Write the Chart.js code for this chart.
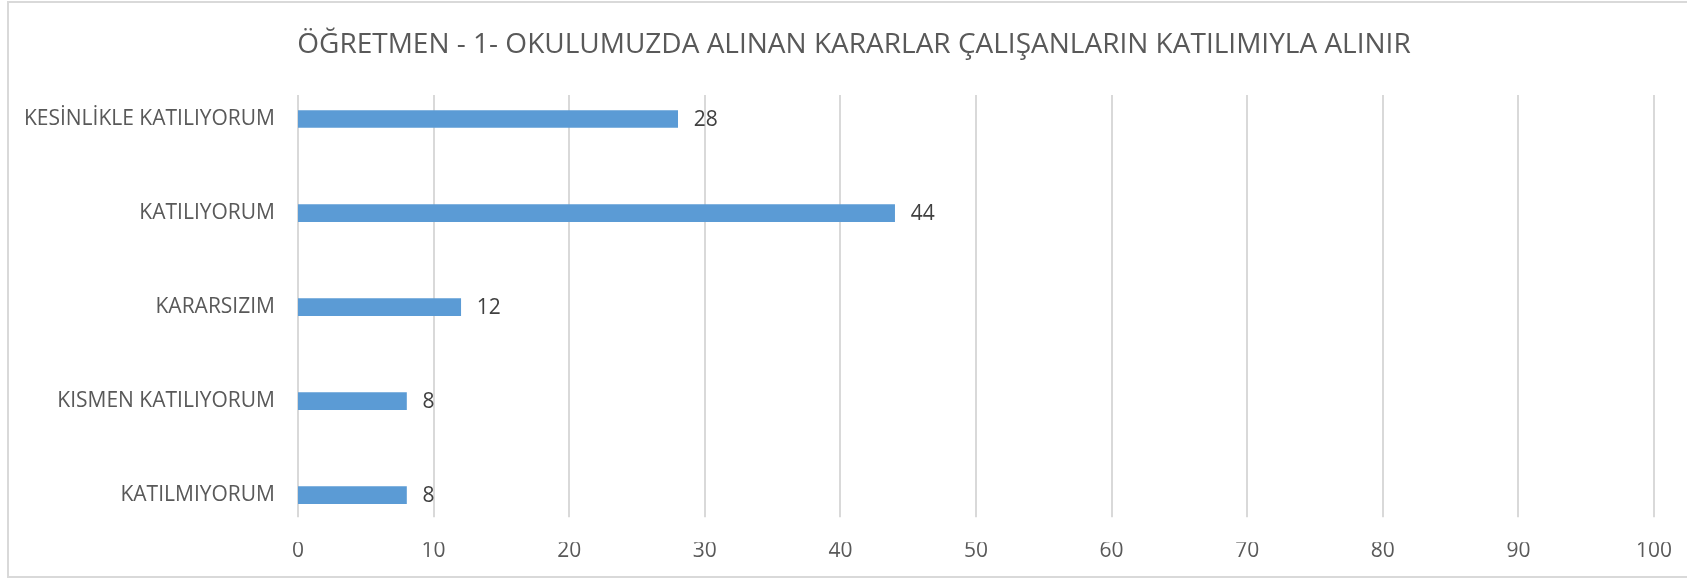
<!DOCTYPE html>
<html>
<head>
<meta charset="utf-8">
<script src="https://cdn.jsdelivr.net/npm/chart.js@4/dist/chart.umd.min.js"></script>
<style>
  html, body { margin: 0; padding: 0; background: #fff; }
  canvas { display: block; }
</style>
</head>
<body>
<canvas id="chart" width="1687" height="579"></canvas>
<script>
const chartTitle = "ÖĞRETMEN - 1- OKULUMUZDA ALINAN KARARLAR ÇALIŞANLARIN KATILIMIYLA ALINIR";
const categories = ["KESİNLİKLE KATILIYORUM", "KATILIYORUM", "KARARSIZIM", "KISMEN KATILIYORUM", "KATILMIYORUM"];
const values = [28, 44, 12, 8, 8];
const axisMin = 0;
const axisMax = 100;
const axisStep = 10;

const textColor = "#595959";
const fontFamily = "'Open Sans', sans-serif";

// white background, light frame and the title (sits a little right of centre)
const framePlugin = {
  id: "frame",
  beforeDraw(chart) {
    const ctx = chart.ctx;
    ctx.save();
    ctx.fillStyle = "#fff";
    ctx.fillRect(0, 0, chart.width, chart.height);
    ctx.strokeStyle = "#d9d9d9";
    ctx.lineWidth = 2;
    ctx.strokeRect(8, 2, chart.width + 10, chart.height - 4);
    ctx.fillStyle = textColor;
    ctx.font = "28px " + fontFamily;
    ctx.textAlign = "center";
    ctx.textBaseline = "middle";
    ctx.fillText(chartTitle, 854, 45);
    ctx.restore();
  }
};

// vertical gridlines, a bit shorter than the category band
const gridPlugin = {
  id: "shortGrid",
  beforeDatasetsDraw(chart) {
    const ctx = chart.ctx;
    const xScale = chart.scales.x;
    const area = chart.chartArea;
    ctx.save();
    ctx.strokeStyle = "#d9d9d9";
    ctx.lineWidth = 2;
    xScale.ticks.forEach(t => {
      const x = Math.round(xScale.getPixelForValue(t.value));
      ctx.beginPath();
      ctx.moveTo(x, area.top + 23);
      ctx.lineTo(x, area.bottom - 25);
      ctx.stroke();
    });
    ctx.restore();
  }
};

// value labels at the end of each bar
const valueLabelPlugin = {
  id: "valueLabels",
  afterDatasetsDraw(chart) {
    const ctx = chart.ctx;
    ctx.save();
    ctx.fillStyle = "#404040";
    ctx.font = "21px " + fontFamily;
    ctx.textAlign = "left";
    ctx.textBaseline = "middle";
    chart.getDatasetMeta(0).data.forEach((bar, i) => {
      ctx.fillText(String(values[i]), bar.x + 16, bar.y + 1);
    });
    ctx.restore();
  }
};

new Chart(document.getElementById("chart").getContext("2d"), {
  type: "bar",
  data: {
    labels: categories,
    datasets: [{
      data: values,
      backgroundColor: "#5B9BD5",
      borderWidth: 0,
      barThickness: 17
    }]
  },
  options: {
    indexAxis: "y",
    responsive: false,
    animation: false,
    devicePixelRatio: 1,
    layout: { padding: { left: 10, right: 33, top: 72, bottom: 20 } },
    plugins: {
      legend: { display: false },
      tooltip: { enabled: false },
      title: { display: false }
    },
    scales: {
      x: {
        min: axisMin,
        max: axisMax,
        grid: { display: false, drawTicks: false },
        border: { display: false },
        ticks: {
          stepSize: axisStep,
          color: textColor,
          padding: 0,
          font: { family: fontFamily, size: 21, lineHeight: 0.8 }
        }
      },
      y: {
        grid: { display: false, drawTicks: false },
        border: { display: false },
        ticks: {
          color: textColor,
          padding: 23,
          font: { family: fontFamily, size: 21 }
        },
        afterFit(scale) { scale.width = 288; }
      }
    }
  },
  plugins: [framePlugin, gridPlugin, valueLabelPlugin]
});
</script>
</body>
</html>
